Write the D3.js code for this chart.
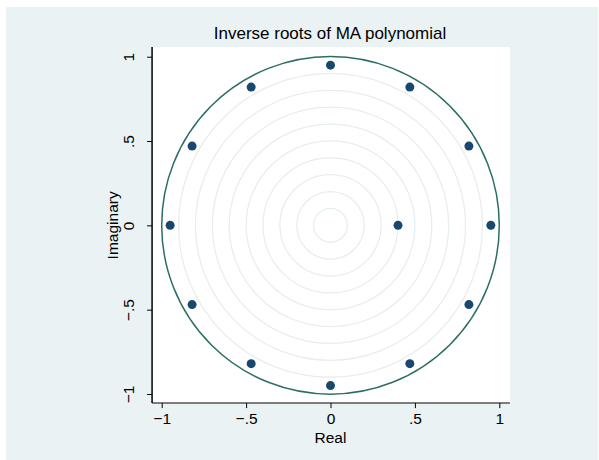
<!DOCTYPE html>
<html>
<head>
<meta charset="utf-8">
<script src="https://cdn.jsdelivr.net/npm/d3@7"></script>
<style>
html,body{margin:0;padding:0;background:#fff;}
text{font-family:"Liberation Sans",Arial,Helvetica,sans-serif;fill:#000;}
</style>
</head>
<body>
<svg id="chart" width="599" height="460"></svg>
<script>
// Data
const realParts = [0.95, 0.82, 0.47, 0.00, -0.47, -0.82, -0.95, -0.82, -0.47, 0.00, 0.47, 0.82, 0.40];
const imagParts = [0.00, 0.47, 0.82, 0.95, 0.82, 0.47, 0.00, -0.47, -0.82, -0.95, -0.82, -0.47, 0.00];
const tickValues = [-1, -0.5, 0, 0.5, 1];
const tickLabels = ["\u22121", "\u2212.5", "0", ".5", "1"];
const gridRadii = [0.1, 0.2, 0.3, 0.4, 0.5, 0.6, 0.7, 0.8, 0.9];
const titleText = "Inverse roots of MA polynomial";
const xTitle = "Real";
const yTitle = "Imaginary";

const svg = d3.select("#chart");
const x = d3.scaleLinear().domain([-1, 1]).range([161.7, 499.3]);
const y = d3.scaleLinear().domain([-1, 1]).range([394, 56.7]);
const xDom = [-1.057, 1.063], yDom = [-1.054, 1.057];

// outer background
svg.append("rect").attr("x", 6).attr("y", 7).attr("width", 592).attr("height", 453).attr("fill", "#EAF2F3");
// plot region
svg.append("rect").attr("x", x(xDom[0])).attr("y", y(yDom[1]))
  .attr("width", x(xDom[1]) - x(xDom[0])).attr("height", y(yDom[0]) - y(yDom[1]))
  .attr("fill", "#fff");

const cx = x(0), cy = y(0);
const rs = d => x(d) - x(0);
svg.append("g").selectAll("circle").data(gridRadii).join("circle")
  .attr("cx", cx).attr("cy", cy).attr("r", d => rs(d))
  .attr("fill", "none").attr("stroke", "#E6EEF0").attr("stroke-width", 1.3);
svg.append("circle").attr("cx", cx).attr("cy", cy).attr("r", rs(1))
  .attr("fill", "none").attr("stroke", "#2C6E64").attr("stroke-width", 1.5);

// points
svg.append("g").selectAll("circle").data(realParts.map((r, i) => [r, imagParts[i]])).join("circle")
  .attr("cx", d => x(d[0])).attr("cy", d => y(d[1])).attr("r", 4.5).attr("fill", "#1A476F");

const fmt = d => tickLabels[tickValues.indexOf(d)];
// x axis
const xAxis = svg.append("g").attr("transform", `translate(0,${y(yDom[0])})`)
  .call(d3.axisBottom(x).tickValues(tickValues).tickFormat(fmt).tickSize(5).tickPadding(5));
xAxis.select(".domain").attr("d", `M${x(xDom[0])},0H${x(xDom[1])}`).attr("stroke", "#555").attr("stroke-width", 1.5);
xAxis.selectAll(".tick line").attr("stroke", "#000").attr("stroke-width", 1);
xAxis.selectAll("text").attr("font-size", 15.5).attr("font-family", "Liberation Sans, Arial, sans-serif").attr("fill", "#000");

// y axis
const yAxis = svg.append("g").attr("transform", `translate(${x(xDom[0])},0)`)
  .call(d3.axisLeft(y).tickValues(tickValues).tickFormat(fmt).tickSize(5).tickPadding(5));
yAxis.select(".domain").attr("d", `M0,${y(yDom[0])}V${y(yDom[1])}`).attr("stroke", "#000").attr("stroke-width", 1.5);
yAxis.selectAll(".tick line").attr("stroke", "#000").attr("stroke-width", 1);
yAxis.selectAll("text").attr("font-size", 15.5).attr("font-family", "Liberation Sans, Arial, sans-serif").attr("fill", "#000")
  .attr("x", null).attr("dy", null)
  .attr("text-anchor", "middle")
  .attr("transform", "translate(-24,0) rotate(-90)")
  .attr("dy", "0.35em");

// titles
svg.append("text").attr("x", 330).attr("y", 39).attr("text-anchor", "middle").attr("font-size", 17).text(titleText);
svg.append("text").attr("x", x(0)).attr("y", 443).attr("text-anchor", "middle").attr("font-size", 15.5).text(xTitle);
svg.append("text").attr("transform", `translate(118,${y(0)}) rotate(-90)`).attr("text-anchor", "middle").attr("font-size", 15.5).text(yTitle);
</script>
</body>
</html>
